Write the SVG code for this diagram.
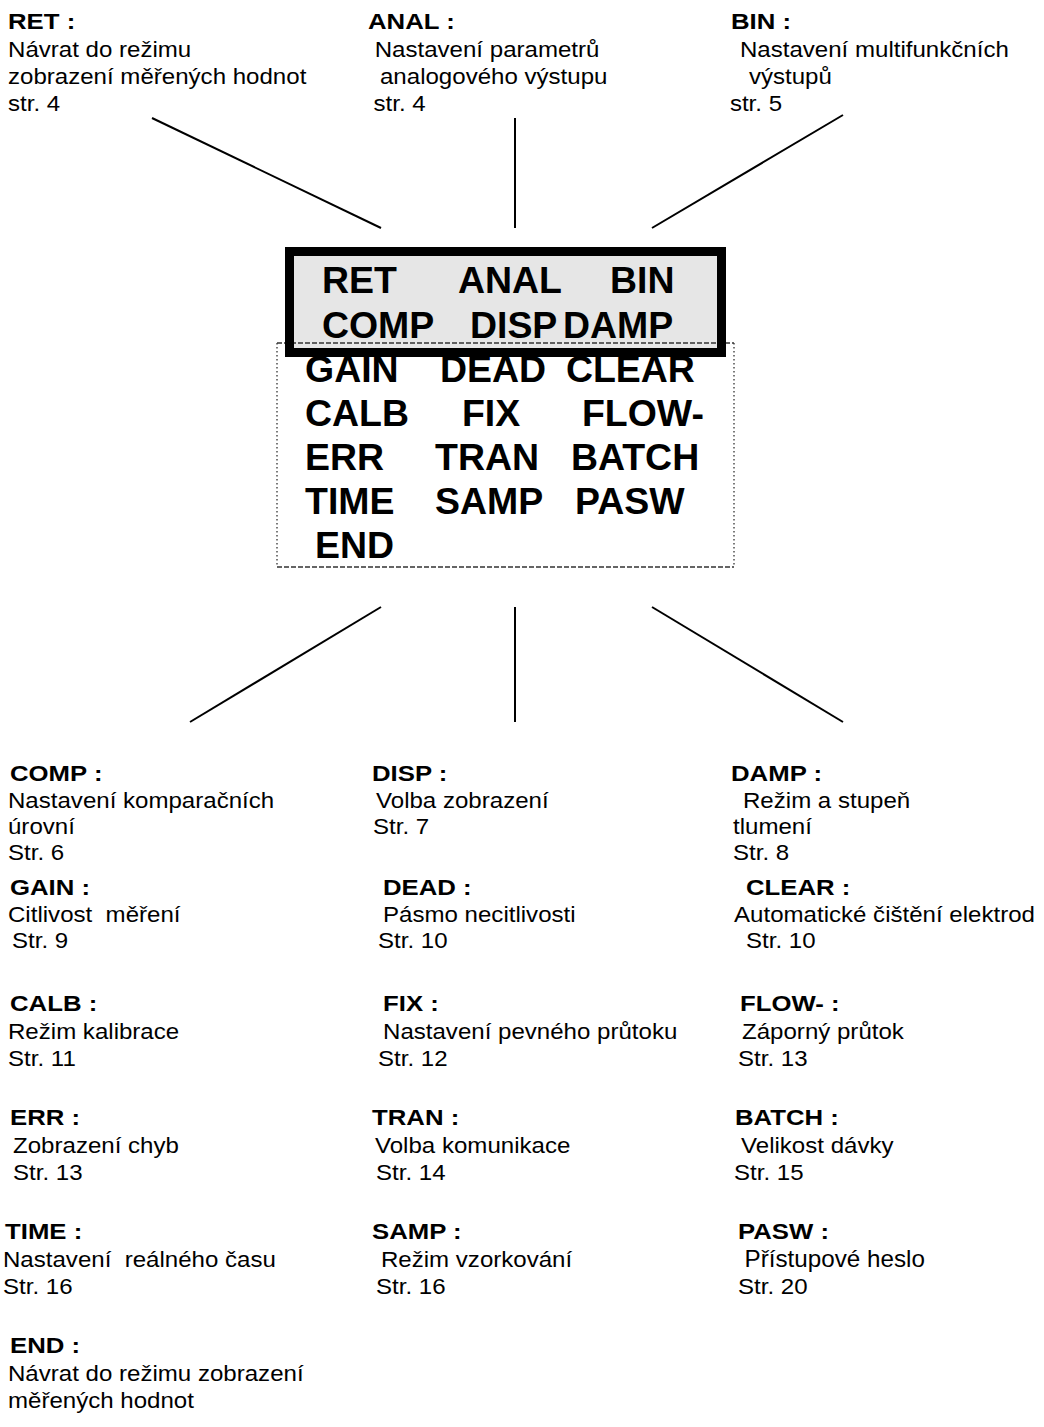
<svg xmlns="http://www.w3.org/2000/svg" width="1044" height="1427" viewBox="0 0 1044 1427">
<style>
text { font-family: "Liberation Sans", Arial, sans-serif; fill: #000; white-space: pre; }
.h { font-size: 23px; font-weight: bold; }
.t { font-size: 21.5px; }
.tl { font-size: 23px; }
.c { font-size: 36px; font-weight: bold; }
.ln { stroke: #000; stroke-width: 2; fill: none; }
.dash { stroke: #333; stroke-width: 1.3; stroke-dasharray: 5 2; fill: none; }
.dot { stroke: #333; stroke-width: 1.3; stroke-dasharray: 1.5 2.5; fill: none; }
</style>
<rect width="1044" height="1427" fill="#fff"/>

<g id="connectors">
<line class="ln" x1="152" y1="118" x2="381" y2="228"/>
<line class="ln" x1="515" y1="118" x2="515" y2="228"/>
<line class="ln" x1="843" y1="115" x2="652" y2="228"/>
<line class="ln" x1="381" y1="607" x2="190" y2="722"/>
<line class="ln" x1="515" y1="607" x2="515" y2="722"/>
<line class="ln" x1="652" y1="607" x2="843" y2="722"/>
</g>

<g id="display">
<rect x="289.5" y="251.5" width="432" height="101" fill="#e6e6e6"/>
<line class="dash" x1="277" y1="343" x2="734" y2="343"/>
<line class="dash" x1="277" y1="567" x2="734" y2="567"/>
<line class="dot" x1="277" y1="343" x2="277" y2="567"/>
<line class="dot" x1="734" y1="343" x2="734" y2="567"/>
<rect x="289.5" y="251.5" width="432" height="101" fill="none" stroke="#000" stroke-width="9"/>
<g transform="scale(1.04 1)">
<text class="c" x="309.6" y="293">RET</text>
<text class="c" x="440.4" y="293">ANAL</text>
<text class="c" x="586.5" y="293">BIN</text>
<text class="c" x="309.6" y="338">COMP</text>
<text class="c" x="451.9" y="338">DISP</text>
<text class="c" x="541.3" y="338">DAMP</text>
<text class="c" x="293.3" y="382">GAIN</text>
<text class="c" x="423.1" y="382">DEAD</text>
<text class="c" x="544.2" y="382">CLEAR</text>
<text class="c" x="293.3" y="426">CALB</text>
<text class="c" x="444.2" y="426">FIX</text>
<text class="c" x="559.6" y="426">FLOW-</text>
<text class="c" x="293.3" y="470">ERR</text>
<text class="c" x="418.3" y="470">TRAN</text>
<text class="c" x="549" y="470">BATCH</text>
<text class="c" x="293.3" y="514">TIME</text>
<text class="c" x="418.3" y="514">SAMP</text>
<text class="c" x="552.9" y="514">PASW</text>
<text class="c" x="302.9" y="558">END</text>
</g>
</g>

<g id="n-ret" transform="translate(8 0) scale(1.12 1)">
<text class="h" x="0" y="29">RET :</text>
<text class="t" x="0" y="57">Návrat do režimu</text>
<text class="t" x="0" y="84">zobrazení měřených hodnot</text>
<text class="t" x="0" y="111">str. 4</text>
</g>
<g id="n-anal" transform="translate(368 0) scale(1.12 1)">
<text class="h" x="0" y="29">ANAL :</text>
<text class="t" x="6" y="57">Nastavení parametrů</text>
<text class="t" x="10.7" y="84">analogového výstupu</text>
<text class="t" x="5" y="111">str. 4</text>
</g>
<g id="n-bin" transform="translate(731 0) scale(1.12 1)">
<text class="h" x="0" y="29">BIN :</text>
<text class="t" x="8" y="57">Nastavení multifunkčních</text>
<text class="t" x="16" y="84">výstupů</text>
<text class="t" x="-1" y="111">str. 5</text>
</g>

<g id="n-comp" transform="translate(10 0) scale(1.12 1)">
<text class="h" x="0" y="781">COMP :</text>
<text class="t" x="-1.8" y="808">Nastavení komparačních</text>
<text class="t" x="-1.8" y="834">úrovní</text>
<text class="t" x="-1.8" y="860">Str. 6</text>
</g>
<g id="n-disp" transform="translate(372 0) scale(1.12 1)">
<text class="h" x="0" y="781">DISP :</text>
<text class="t" x="3.6" y="808">Volba zobrazení</text>
<text class="t" x="0.9" y="834">Str. 7</text>
</g>
<g id="n-damp" transform="translate(731 0) scale(1.12 1)">
<text class="h" x="0" y="781">DAMP :</text>
<text class="t" x="10.7" y="808">Režim a stupeň</text>
<text class="t" x="1.8" y="834">tlumení</text>
<text class="t" x="1.8" y="860">Str. 8</text>
</g>

<g id="n-gain" transform="translate(10 0) scale(1.12 1)">
<text class="h" x="0" y="895">GAIN :</text>
<text class="t" x="-1.8" y="922">Citlivost  měření</text>
<text class="t" x="1.8" y="948">Str. 9</text>
</g>
<g id="n-dead" transform="translate(383 0) scale(1.12 1)">
<text class="h" x="0" y="895">DEAD :</text>
<text class="t" x="0" y="922">Pásmo necitlivosti</text>
<text class="t" x="-4.5" y="948">Str. 10</text>
</g>
<g id="n-clear" transform="translate(746 0) scale(1.12 1)">
<text class="h" x="0" y="895">CLEAR :</text>
<text class="t" x="-10.7" y="922">Automatické čištění elektrod</text>
<text class="t" x="0" y="948">Str. 10</text>
</g>

<g id="n-calb" transform="translate(10 0) scale(1.12 1)">
<text class="h" x="0" y="1011">CALB :</text>
<text class="t" x="-1.8" y="1039">Režim kalibrace</text>
<text class="t" x="-1.8" y="1066">Str. 11</text>
</g>
<g id="n-fix" transform="translate(383 0) scale(1.12 1)">
<text class="h" x="0" y="1011">FIX :</text>
<text class="t" x="0" y="1039">Nastavení pevného průtoku</text>
<text class="t" x="-4.5" y="1066">Str. 12</text>
</g>
<g id="n-flow" transform="translate(740 0) scale(1.12 1)">
<text class="h" x="0" y="1011">FLOW- :</text>
<text class="t" x="1.8" y="1039">Záporný průtok</text>
<text class="t" x="-1.8" y="1066">Str. 13</text>
</g>

<g id="n-err" transform="translate(10 0) scale(1.12 1)">
<text class="h" x="0" y="1125">ERR :</text>
<text class="t" x="2.7" y="1153">Zobrazení chyb</text>
<text class="t" x="2.7" y="1180">Str. 13</text>
</g>
<g id="n-tran" transform="translate(372 0) scale(1.12 1)">
<text class="h" x="0" y="1125">TRAN :</text>
<text class="t" x="2.7" y="1153">Volba komunikace</text>
<text class="t" x="3.6" y="1180">Str. 14</text>
</g>
<g id="n-batch" transform="translate(735 0) scale(1.12 1)">
<text class="h" x="0" y="1125">BATCH :</text>
<text class="t" x="5.4" y="1153">Velikost dávky</text>
<text class="t" x="-0.9" y="1180">Str. 15</text>
</g>

<g id="n-time" transform="translate(5 0) scale(1.12 1)">
<text class="h" x="0" y="1239">TIME :</text>
<text class="t" x="-1.8" y="1267">Nastavení  reálného času</text>
<text class="t" x="-1.8" y="1294">Str. 16</text>
</g>
<g id="n-samp" transform="translate(372 0) scale(1.12 1)">
<text class="h" x="0" y="1239">SAMP :</text>
<text class="t" x="8" y="1267">Režim vzorkování</text>
<text class="t" x="3.6" y="1294">Str. 16</text>
</g>
<g id="n-pasw" transform="translate(738 0) scale(1.12 1)">
<text class="h" x="0" y="1239">PASW :</text>
<text class="tl" x="6.2" y="1267" transform="scale(0.94 1)">Přístupové heslo</text>
<text class="t" x="0" y="1294">Str. 20</text>
</g>

<g id="n-end" transform="translate(10 0) scale(1.12 1)">
<text class="h" x="0" y="1353">END :</text>
<text class="t" x="-1.8" y="1381">Návrat do režimu zobrazení</text>
<text class="t" x="-1.8" y="1408">měřených hodnot</text>
</g>
</svg>
